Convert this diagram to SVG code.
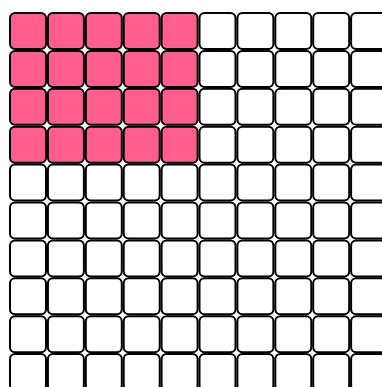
<svg xmlns="http://www.w3.org/2000/svg" width="382" height="387" viewBox="0 0 382 387">
<style>
.c{fill:#ffffff;stroke:#000;stroke-width:2}
.p{fill:#ff5e8e;stroke:#000;stroke-width:2}
</style>
<defs>
<rect id="cell" width="36" height="36" rx="5" ry="5"/>
</defs>
<rect width="382" height="387" fill="#fff"/>
<g id="grid">
<g id="r0"><use href="#cell" class="p" x="10" y="13"/><use href="#cell" class="p" x="47.9" y="13"/><use href="#cell" class="p" x="85.8" y="13"/><use href="#cell" class="p" x="123.7" y="13"/><use href="#cell" class="p" x="161.6" y="13"/><use href="#cell" class="c" x="199.5" y="13"/><use href="#cell" class="c" x="237.4" y="13"/><use href="#cell" class="c" x="275.3" y="13"/><use href="#cell" class="c" x="313.2" y="13"/><use href="#cell" class="c" x="351.1" y="13"/></g>
<g id="r1"><use href="#cell" class="p" x="10" y="50.9"/><use href="#cell" class="p" x="47.9" y="50.9"/><use href="#cell" class="p" x="85.8" y="50.9"/><use href="#cell" class="p" x="123.7" y="50.9"/><use href="#cell" class="p" x="161.6" y="50.9"/><use href="#cell" class="c" x="199.5" y="50.9"/><use href="#cell" class="c" x="237.4" y="50.9"/><use href="#cell" class="c" x="275.3" y="50.9"/><use href="#cell" class="c" x="313.2" y="50.9"/><use href="#cell" class="c" x="351.1" y="50.9"/></g>
<g id="r2"><use href="#cell" class="p" x="10" y="88.8"/><use href="#cell" class="p" x="47.9" y="88.8"/><use href="#cell" class="p" x="85.8" y="88.8"/><use href="#cell" class="p" x="123.7" y="88.8"/><use href="#cell" class="p" x="161.6" y="88.8"/><use href="#cell" class="c" x="199.5" y="88.8"/><use href="#cell" class="c" x="237.4" y="88.8"/><use href="#cell" class="c" x="275.3" y="88.8"/><use href="#cell" class="c" x="313.2" y="88.8"/><use href="#cell" class="c" x="351.1" y="88.8"/></g>
<g id="r3"><use href="#cell" class="p" x="10" y="126.7"/><use href="#cell" class="p" x="47.9" y="126.7"/><use href="#cell" class="p" x="85.8" y="126.7"/><use href="#cell" class="p" x="123.7" y="126.7"/><use href="#cell" class="p" x="161.6" y="126.7"/><use href="#cell" class="c" x="199.5" y="126.7"/><use href="#cell" class="c" x="237.4" y="126.7"/><use href="#cell" class="c" x="275.3" y="126.7"/><use href="#cell" class="c" x="313.2" y="126.7"/><use href="#cell" class="c" x="351.1" y="126.7"/></g>
<g id="r4"><use href="#cell" class="c" x="10" y="164.6"/><use href="#cell" class="c" x="47.9" y="164.6"/><use href="#cell" class="c" x="85.8" y="164.6"/><use href="#cell" class="c" x="123.7" y="164.6"/><use href="#cell" class="c" x="161.6" y="164.6"/><use href="#cell" class="c" x="199.5" y="164.6"/><use href="#cell" class="c" x="237.4" y="164.6"/><use href="#cell" class="c" x="275.3" y="164.6"/><use href="#cell" class="c" x="313.2" y="164.6"/><use href="#cell" class="c" x="351.1" y="164.6"/></g>
<g id="r5"><use href="#cell" class="c" x="10" y="202.5"/><use href="#cell" class="c" x="47.9" y="202.5"/><use href="#cell" class="c" x="85.8" y="202.5"/><use href="#cell" class="c" x="123.7" y="202.5"/><use href="#cell" class="c" x="161.6" y="202.5"/><use href="#cell" class="c" x="199.5" y="202.5"/><use href="#cell" class="c" x="237.4" y="202.5"/><use href="#cell" class="c" x="275.3" y="202.5"/><use href="#cell" class="c" x="313.2" y="202.5"/><use href="#cell" class="c" x="351.1" y="202.5"/></g>
<g id="r6"><use href="#cell" class="c" x="10" y="240.4"/><use href="#cell" class="c" x="47.9" y="240.4"/><use href="#cell" class="c" x="85.8" y="240.4"/><use href="#cell" class="c" x="123.7" y="240.4"/><use href="#cell" class="c" x="161.6" y="240.4"/><use href="#cell" class="c" x="199.5" y="240.4"/><use href="#cell" class="c" x="237.4" y="240.4"/><use href="#cell" class="c" x="275.3" y="240.4"/><use href="#cell" class="c" x="313.2" y="240.4"/><use href="#cell" class="c" x="351.1" y="240.4"/></g>
<g id="r7"><use href="#cell" class="c" x="10" y="278.3"/><use href="#cell" class="c" x="47.9" y="278.3"/><use href="#cell" class="c" x="85.8" y="278.3"/><use href="#cell" class="c" x="123.7" y="278.3"/><use href="#cell" class="c" x="161.6" y="278.3"/><use href="#cell" class="c" x="199.5" y="278.3"/><use href="#cell" class="c" x="237.4" y="278.3"/><use href="#cell" class="c" x="275.3" y="278.3"/><use href="#cell" class="c" x="313.2" y="278.3"/><use href="#cell" class="c" x="351.1" y="278.3"/></g>
<g id="r8"><use href="#cell" class="c" x="10" y="316.2"/><use href="#cell" class="c" x="47.9" y="316.2"/><use href="#cell" class="c" x="85.8" y="316.2"/><use href="#cell" class="c" x="123.7" y="316.2"/><use href="#cell" class="c" x="161.6" y="316.2"/><use href="#cell" class="c" x="199.5" y="316.2"/><use href="#cell" class="c" x="237.4" y="316.2"/><use href="#cell" class="c" x="275.3" y="316.2"/><use href="#cell" class="c" x="313.2" y="316.2"/><use href="#cell" class="c" x="351.1" y="316.2"/></g>
<g id="r9"><use href="#cell" class="c" x="10" y="354.1"/><use href="#cell" class="c" x="47.9" y="354.1"/><use href="#cell" class="c" x="85.8" y="354.1"/><use href="#cell" class="c" x="123.7" y="354.1"/><use href="#cell" class="c" x="161.6" y="354.1"/><use href="#cell" class="c" x="199.5" y="354.1"/><use href="#cell" class="c" x="237.4" y="354.1"/><use href="#cell" class="c" x="275.3" y="354.1"/><use href="#cell" class="c" x="313.2" y="354.1"/><use href="#cell" class="c" x="351.1" y="354.1"/></g>
</g>
</svg>
